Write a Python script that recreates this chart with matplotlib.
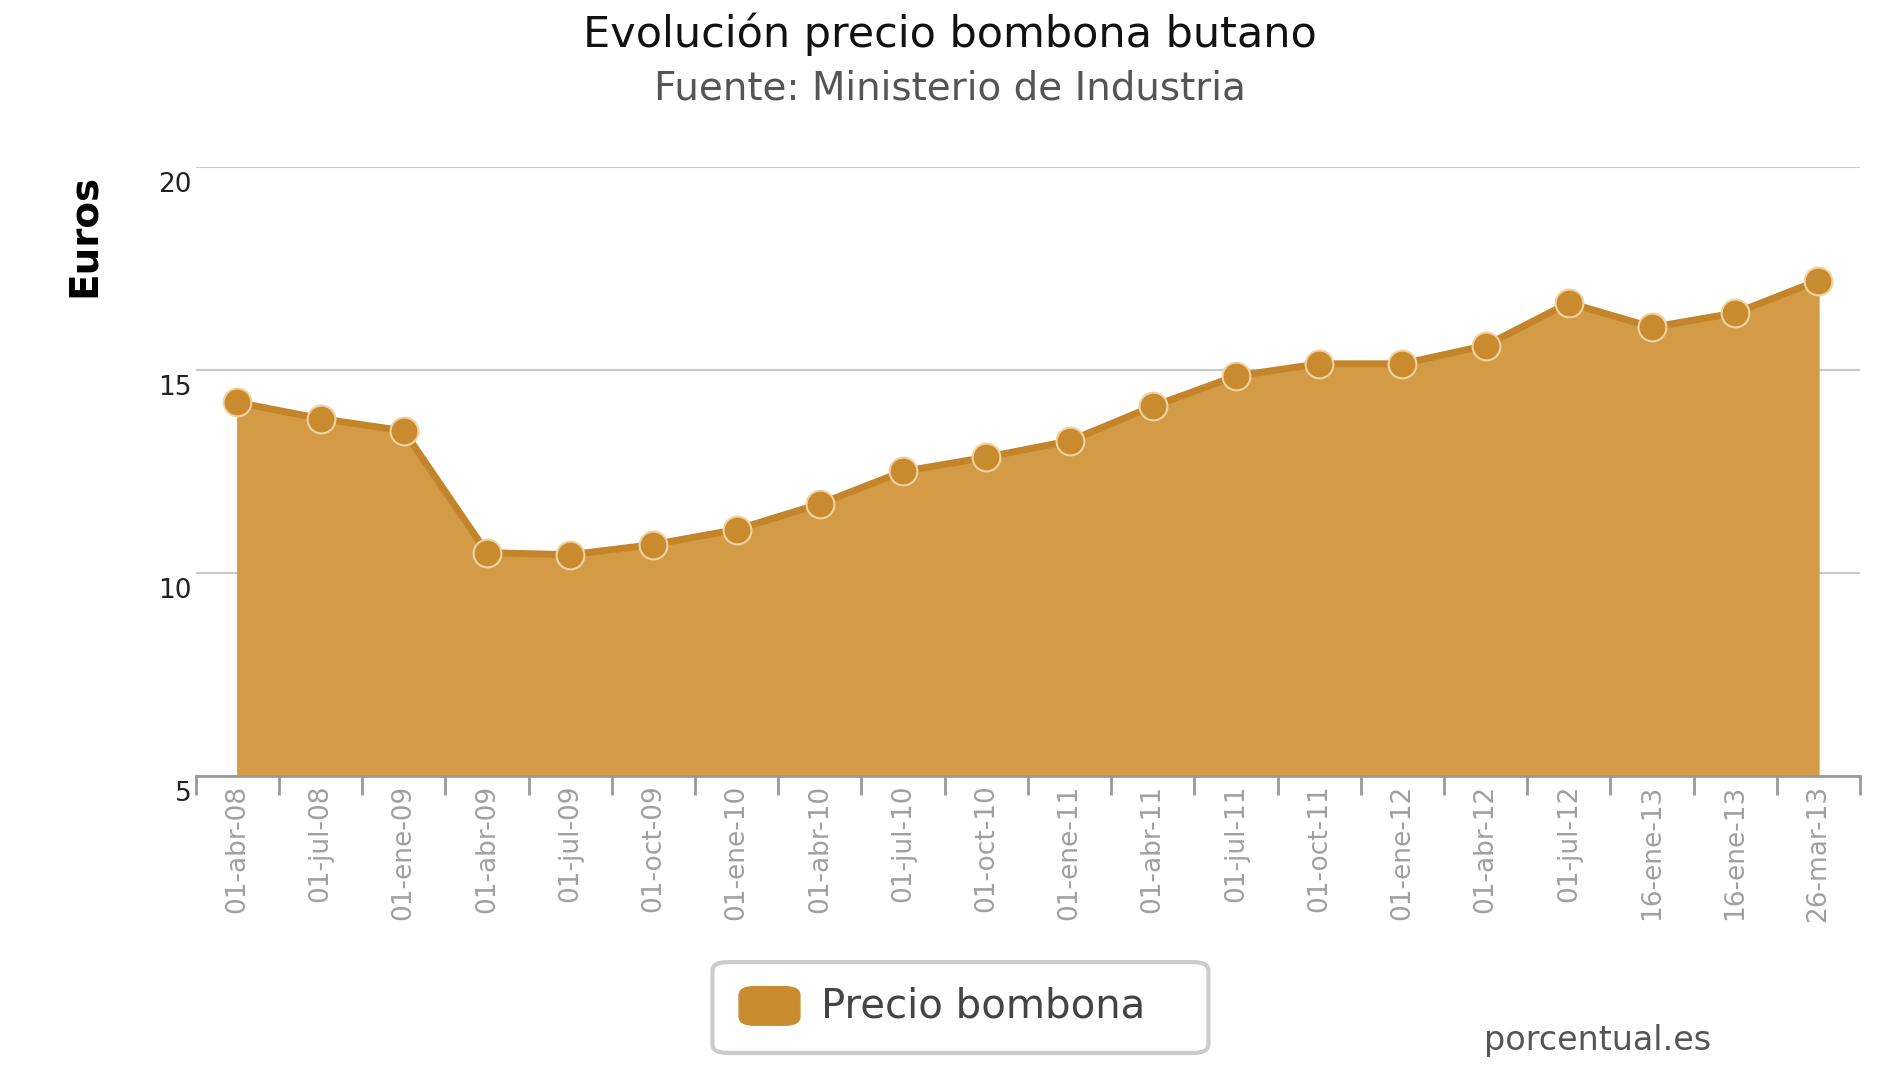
import matplotlib.pyplot as plt
from matplotlib.patches import FancyBboxPatch

labels = ["01-abr-08", "01-jul-08", "01-ene-09", "01-abr-09", "01-jul-09", "01-oct-09",
          "01-ene-10", "01-abr-10", "01-jul-10", "01-oct-10", "01-ene-11", "01-abr-11",
          "01-jul-11", "01-oct-11", "01-ene-12", "01-abr-12", "01-jul-12", "16-ene-13",
          "16-ene-13", "26-mar-13"]
precio = [14.2, 13.8, 13.5, 10.5, 10.45, 10.7, 11.07, 11.7, 12.5, 12.85, 13.25, 14.1,
          14.85, 15.15, 15.15, 15.6, 16.65, 16.05, 16.4, 17.2]

plt.rcParams['font.family'] = ['DejaVu Sans']
fig = plt.figure(figsize=(19, 10.69), dpi=100)
ax = fig.add_axes([0.103, 0.274, 0.876, 0.57])

x = list(range(len(precio)))
ax.fill_between(x, 5, precio, color="#d49b47", zorder=2)
ax.plot(x, precio, color="#c4842a", lw=5, zorder=3)
ax.plot(x, precio, "o", ms=20, color="#c98b2e", mec="#f0d2a0", mew=1.5, zorder=4)

ax.set_xlim(-0.5, len(precio) - 0.5)
ax.set_ylim(5, 20)
ax.set_yticks([5, 10, 15, 20])
ax.set_yticklabels([])
for v in [5, 10, 15, 20]:
    ax.axhline(v, color="#c8c8c8", lw=1.5, zorder=1)
    ax.text(-0.55, v - 0.45, str(v), ha="right", va="center", fontsize=19, color="#222222")
ax.tick_params(axis="y", length=0)

ax.set_xticks([i - 0.5 for i in range(len(precio) + 1)], minor=False)
ax.set_xticklabels([])
ax.set_xticks(x, minor=True)
ax.set_xticklabels(labels, minor=True, rotation=90, fontsize=19, color="#a0a0a0", va="top")
ax.tick_params(axis="x", which="major", length=14, color="#999999", width=2)
ax.tick_params(axis="x", which="minor", length=0, pad=6)
for s in ["top", "right", "left"]:
    ax.spines[s].set_visible(False)
ax.spines["bottom"].set_color("#999999")
ax.spines["bottom"].set_linewidth(2)

fig.text(0.5, 0.968, "Evolución precio bombona butano", ha="center", va="center", fontsize=31, color="#111111")
fig.text(0.5, 0.917, "Fuente: Ministerio de Industria", ha="center", va="center", fontsize=28, color="#555555")
fig.text(0.044, 0.78, "Euros", rotation=90, ha="center", va="center", fontsize=28, fontweight="bold")
fig.text(0.841, 0.027, "porcentual.es", ha="center", va="center", fontsize=24, color="#555555")

# legend box
box = FancyBboxPatch((0.375, 0.015), 0.261, 0.085, boxstyle="round,pad=0,rounding_size=0.008",
                     transform=fig.transFigure, fc="white", ec="#cccccc", lw=3)
fig.patches.append(box)
sw = FancyBboxPatch((0.389, 0.041), 0.032, 0.036, boxstyle="round,pad=0,rounding_size=0.008",
                    transform=fig.transFigure, fc="#c98b2e", ec="#c98b2e")
fig.patches.append(sw)
fig.text(0.432, 0.058, "Precio bombona", ha="left", va="center", fontsize=29, color="#444444")

fig.savefig("out.png", dpi=100)
